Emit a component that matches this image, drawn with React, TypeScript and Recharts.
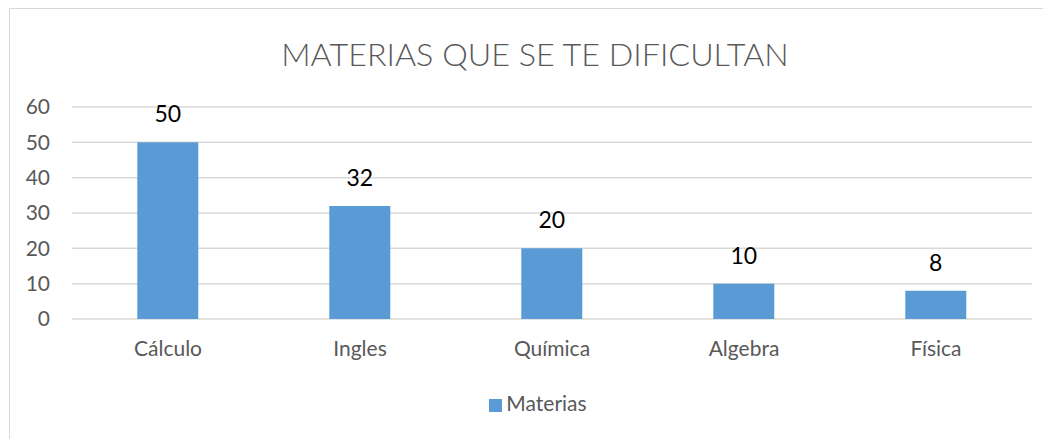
import { BarChart, Bar, XAxis, YAxis, CartesianGrid, Legend, LabelList } from 'recharts';

const categories = ['Cálculo', 'Ingles', 'Química', 'Algebra', 'Física'];
const materias = [50, 32, 20, 10, 8];
const yTicks = [0, 10, 20, 30, 40, 50, 60];

const data = categories.map((name, i) => ({ name, materias: materias[i] }));

const FONT = 'Lato, "Open Sans", sans-serif';
const BLUE = '#5b9bd5';
const GREY = '#595959';

export default function App() {
  return (
    <div
      style={{
        position: 'relative',
        width: 1042,
        height: 430,
        marginLeft: 1,
        borderLeft: '1px solid #d9d9d9',
        borderTop: '1px solid #d9d9d9',
        fontFamily: FONT,
      }}
    >
      <div
        style={{
          position: 'absolute',
          top: 27,
          left: 0,
          width: 1050,
          textAlign: 'center',
          fontSize: 32.3,
          fontWeight: 300,
          color: GREY,
          lineHeight: '36px',
        }}
      >
        MATERIAS QUE SE TE DIFICULTAN
      </div>
      <BarChart
        width={1042}
        height={430}
        data={data}
        barCategoryGap="34%"
        margin={{ top: 98, right: 20, left: 0, bottom: 55 }}
      >
        <CartesianGrid vertical={false} stroke="#d9d9d9" strokeWidth={1.5} />
        <XAxis
          dataKey="name"
          axisLine={false}
          tickLine={false}
          tickSize={0}
          tickMargin={22}
          height={40}
          tick={{ fill: GREY, fontSize: 21, fontFamily: FONT }}
        />
        <YAxis
          domain={[0, 60]}
          ticks={yTicks}
          interval={0}
          axisLine={false}
          tickLine={false}
          tickSize={0}
          tickMargin={22}
          width={62}
          tick={{ fill: GREY, fontSize: 21, fontFamily: FONT }}
        />
        <Legend
          iconType="square"
          iconSize={13}
          wrapperStyle={{ top: 381, left: 12, width: 1042, fontFamily: FONT, fontSize: 21 }}
          formatter={(v) => <span style={{ color: GREY }}>{v}</span>}
        />
        <Bar dataKey="materias" name="Materias" fill={BLUE} isAnimationActive={false}>
          <LabelList dataKey="materias" position="top" offset={20} fill="#000" fontSize={23} fontFamily={FONT} />
        </Bar>
      </BarChart>
    </div>
  );
}
